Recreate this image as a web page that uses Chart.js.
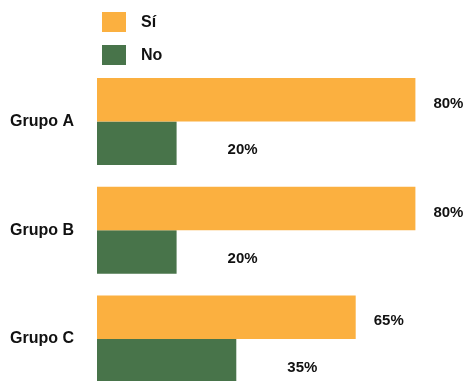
<!DOCTYPE html>
<html>
<head>
<meta charset="utf-8">
<script src="https://cdn.jsdelivr.net/npm/chart.js@4"></script>
<style>
  html, body { margin: 0; padding: 0; background: #fff; }
  body { width: 464px; height: 381px; overflow: hidden; position: relative; font-family: "Liberation Sans", Arial, Helvetica, sans-serif; }
  #chart-grupos { position: absolute; left: 0; top: 0; }
  .legend { position: absolute; left: 102px; top: 12px; }
  .legend-item { display: flex; align-items: center; height: 20px; margin-bottom: 13px; }
  .legend-item span.box { width: 24px; height: 20px; display: inline-block; }
  .legend-item span.txt { margin-left: 15px; font-weight: bold; font-size: 16px; color: #111; }
</style>
</head>
<body>
<canvas id="chart-grupos" width="495" height="426"></canvas>
<div class="legend" id="legend"></div>
<script>
const categories = ["Grupo A", "Grupo B", "Grupo C"]
const seriesNames = ["Sí", "No"]
const siValues = [80, 80, 65]
const noValues = [20, 20, 35]
const colors = ["#FBB040", "#48744A"]

// label offsets per series (px from bar end)
const labelShift = [18, 51]

const valueLabels = {
  id: "valueLabels",
  afterDatasetsDraw(chart) {
    const ctx = chart.ctx
    ctx.save()
    ctx.font = "bold 15px 'Liberation Sans', Arial, sans-serif"
    ctx.fillStyle = "#111"
    ctx.textAlign = "left"
    ctx.textBaseline = "middle"
    chart.data.datasets.forEach((ds, i) => {
      chart.getDatasetMeta(i).data.forEach((bar, j) => {
        ctx.fillText(ds.data[j] + "%", bar.x + labelShift[i], bar.y + (i === 0 ? 4 : 7))
      })
    })
    ctx.restore()
  }
}

new Chart(document.getElementById("chart-grupos"), {
  type: "bar",
  data: {
    labels: categories,
    datasets: [
      { label: seriesNames[0], data: siValues, backgroundColor: colors[0], categoryPercentage: 0.8, barPercentage: 1 },
      { label: seriesNames[1], data: noValues, backgroundColor: colors[1], categoryPercentage: 0.8, barPercentage: 1 }
    ]
  },
  options: {
    indexAxis: "y",
    responsive: false,
    animation: false,
    layout: { padding: { top: 67, right: 0, bottom: 0, left: 0 } },
    plugins: { legend: { display: false }, tooltip: { enabled: false } },
    scales: {
      x: { display: false, min: 0, max: 100 },
      y: {
        grid: { display: false, drawTicks: false },
        border: { display: false },
        ticks: {
          padding: 23,
          color: "#111",
          font: { family: "'Liberation Sans', Arial, sans-serif", size: 16, weight: "bold" }
        },
        afterFit(scale) { scale.width = 97 }
      }
    }
  },
  plugins: [valueLabels]
})

document.getElementById("legend").innerHTML = seriesNames.map((n, i) =>
  `<div class="legend-item"><span class="box" style="background:${colors[i]}"></span><span class="txt">${n}</span></div>`
).join("")
</script>
</body>
</html>
